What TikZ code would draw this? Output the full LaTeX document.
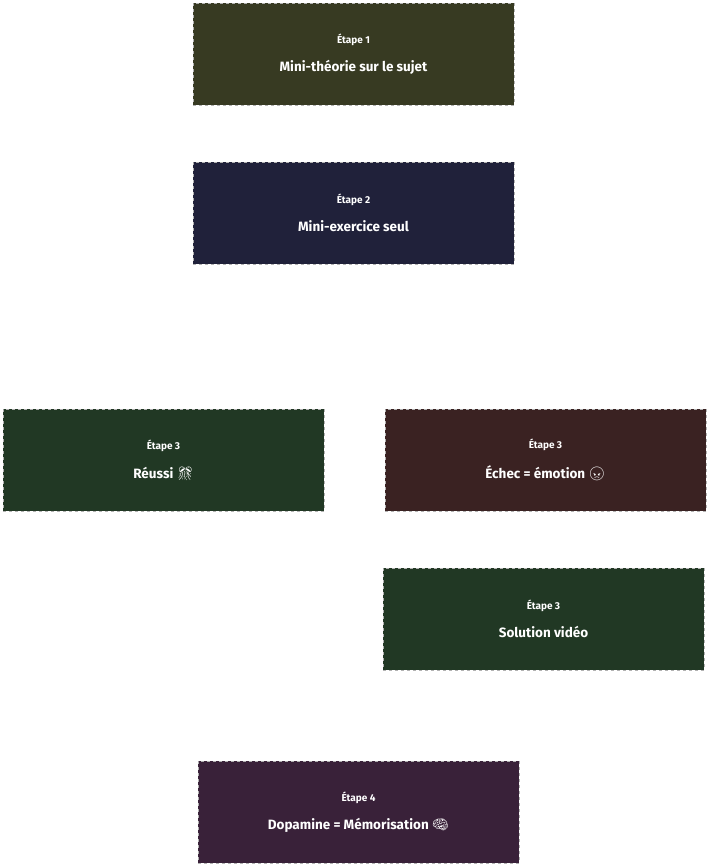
\documentclass[tikz,border=0pt]{standalone}
\usepackage{fontspec}
\setmainfont{Fira Sans}
\newfontfamily\emoji{Noto Emoji}
\definecolor{olivebox}{HTML}{373A22}
\definecolor{navybox}{HTML}{20213A}
\definecolor{greenbox}{HTML}{213824}
\definecolor{redbox}{HTML}{3A2222}
\definecolor{plumbox}{HTML}{392139}
\tikzset{
  stepbox/.style={draw=gray!60, dashed, line width=0.8pt, minimum width=321pt, minimum height=102pt, text=white, align=center, inner sep=0pt},
  steplabel/.style={font=\fontsize{10}{12}\selectfont\bfseries},
  steptext/.style={font=\fontsize{13.5}{16}\selectfont\bfseries}
}
\newcommand{\stepcontent}[2]{{\fontsize{10}{12}\selectfont\bfseries #1}\\[14pt]{\fontsize{13.5}{16}\selectfont\bfseries #2}}
\begin{document}
\begin{tikzpicture}[x=1pt,y=-1pt]
\useasboundingbox (0,0) rectangle (709,866);
\node [stepbox, fill=olivebox] (etape1) at (353.5,54) {\stepcontent{Étape 1}{Mini-théorie sur le sujet}};
\node [stepbox, fill=navybox] (etape2) at (353.5,213) {\stepcontent{Étape 2}{Mini-exercice seul}};
\node [stepbox, fill=greenbox] (reussi) at (163.5,460) {\stepcontent{Étape 3}{Réussi {\emoji 🎊}}};
\node [stepbox, fill=redbox] (echec) at (545.5,460) {\stepcontent{Étape 3}{Échec = émotion {\emoji 😠}}};
\node [stepbox, fill=greenbox] (solution) at (543.5,619) {\stepcontent{Étape 3}{Solution vidéo}};
\node [stepbox, fill=plumbox] (etape4) at (358.5,812) {\stepcontent{Étape 4}{Dopamine = Mémorisation {\emoji 🧠}}};
\end{tikzpicture}
\end{document}
